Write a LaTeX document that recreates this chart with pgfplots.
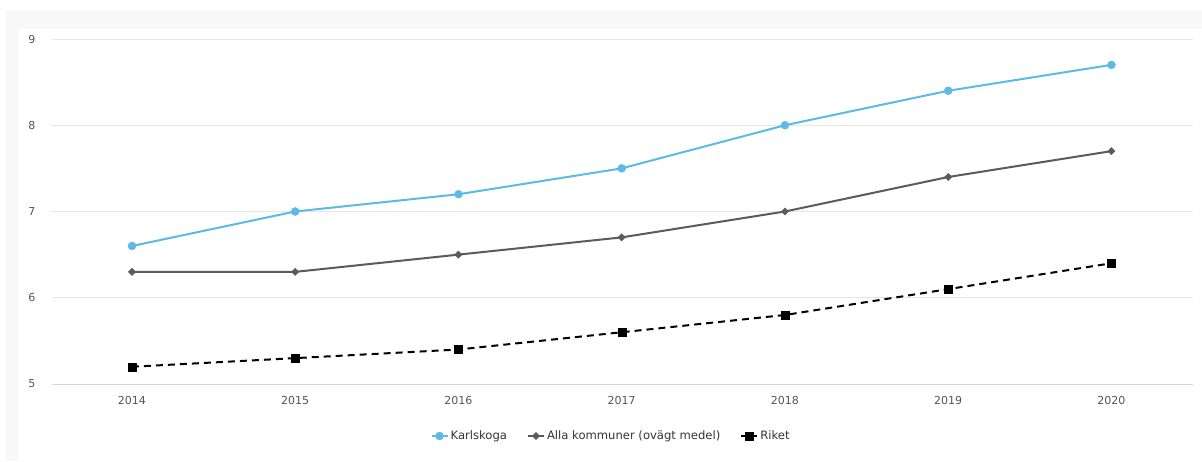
\documentclass[border=0pt]{standalone}
\usepackage{pgfplots}
\pgfplotsset{compat=1.18}
\usepackage{fontspec}
\setmainfont{DejaVu Sans}
\definecolor{kblue}{HTML}{5CBAE5}
\definecolor{agray}{HTML}{5B5B5B}
\definecolor{gridc}{HTML}{E6E6E6}
\definecolor{axisc}{HTML}{CCD6EB}
\definecolor{bgc}{HTML}{F8F8F8}
\definecolor{tickc}{HTML}{555555}
\definecolor{legc}{HTML}{333333}
\begin{document}
\begin{tikzpicture}[x=1pt,y=1pt]
\fill[white] (0,0) rectangle (1202,461);
\fill[bgc] (6,0) rectangle (1202,451);
\fill[white] (18,0) rectangle (1202,432);
\begin{axis}[
  at={(52pt,77pt)}, anchor=south west,
  scale only axis, width=1141pt, height=345pt,
  xmin=2013.51, xmax=2020.5, ymin=5, ymax=9,
  xtick={2014,2015,2016,2017,2018,2019,2020},
  ytick={5,6,7,8,9},
  axis lines*=left,
  x axis line style={draw=axisc, line width=1pt, -},
  y axis line style={draw=none},
  major tick length=0pt,
  ymajorgrids, grid style={draw=gridc, line width=1pt},
  /pgf/number format/assume math mode=true,
  /pgf/number format/1000 sep={},
  xticklabel style={font=\fontsize{11}{13}\selectfont, text=tickc, yshift=-9pt},
  yticklabel style={font=\fontsize{11}{13}\selectfont, text=tickc, xshift=-13pt},
  clip=false,
  legend columns=-1,
  legend style={at={(0.49,-0.1507)}, anchor=center, draw=none, fill=none,
    font=\fontsize{11.6}{13}\selectfont, text=legc,
    /tikz/every even column/.append style={column sep=18pt}},
  legend image code/.code={\draw[mark repeat=2, mark phase=2, #1] plot coordinates {(0pt,0pt)(8pt,0pt)(16pt,0pt)};},
]
\addplot[kblue, line width=2pt, mark=*, mark size=4pt, mark options={solid, fill=kblue, draw=kblue, line width=0.4pt}]
  coordinates {(2014,6.6)(2015,7.0)(2016,7.2)(2017,7.5)(2018,8.0)(2019,8.4)(2020,8.7)};
\addlegendentry{Karlskoga}
\addplot[agray, line width=2pt, mark=square*, mark size=2.55pt, mark options={solid, fill=agray, draw=agray, line width=0.4pt, rotate=45}]
  coordinates {(2014,6.3)(2015,6.3)(2016,6.5)(2017,6.7)(2018,7.0)(2019,7.4)(2020,7.7)};
\addlegendentry{Alla kommuner (ovägt medel)}
\addplot[black, line width=2pt, dash pattern=on 7pt off 5pt, mark=square*, mark size=4pt, mark options={solid, fill=black, draw=black, line width=0.4pt}]
  coordinates {(2014,5.2)(2015,5.3)(2016,5.4)(2017,5.6)(2018,5.8)(2019,6.1)(2020,6.4)};
\addlegendentry{Riket}
\end{axis}
\end{tikzpicture}
\end{document}
